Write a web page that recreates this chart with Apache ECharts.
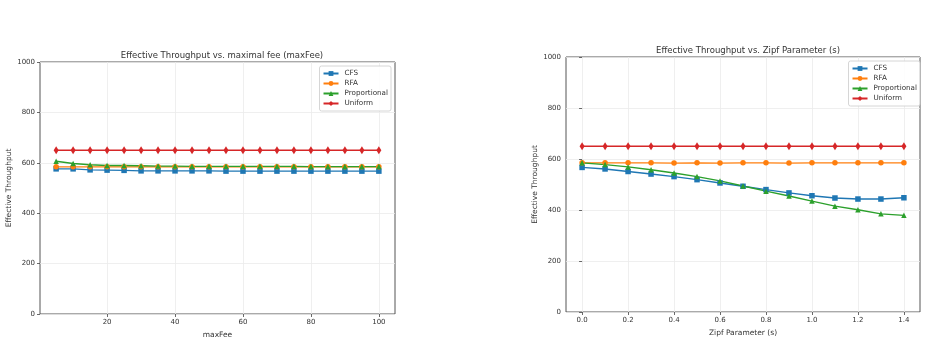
<!DOCTYPE html>
<html>
<head>
<meta charset="utf-8">
<script src="https://cdn.jsdelivr.net/npm/echarts@6/dist/echarts.min.js"></script>
<style>
  html, body { margin: 0; padding: 0; background: #fff; }
  #chart { width: 927px; height: 344px; }
</style>
</head>
<body>
<div id="chart"></div>
<script>
// left panel: throughput vs maxFee
const feeX = [5, 10, 15, 20, 25, 30, 35, 40, 45, 50, 55, 60, 65, 70, 75, 80, 85, 90, 95, 100]
const feeCFS = [576, 576, 572, 571, 570, 568, 568, 568, 568, 568, 567, 567, 567, 567, 567, 567, 567, 567, 567, 567]
const feeRFA = [584, 584, 584, 584, 584, 584, 584, 584, 584, 584, 584, 584, 584, 584, 584, 584, 584, 584, 584, 584]
const feeProp = [606, 597, 592, 589, 589, 588, 587, 587, 586, 586, 586, 586, 586, 586, 586, 585, 585, 585, 585, 585]
const feeUniform = [650, 650, 650, 650, 650, 650, 650, 650, 650, 650, 650, 650, 650, 650, 650, 650, 650, 650, 650, 650]
const feeTicks = [20, 40, 60, 80, 100]

// right panel: throughput vs zipf s
const zipfX = [0.0, 0.1, 0.2, 0.3, 0.4, 0.5, 0.6, 0.7, 0.8, 0.9, 1.0, 1.1, 1.2, 1.3, 1.4]
const zipfCFS = [567, 561, 551, 541, 531, 519, 506, 493, 480, 467, 456, 447, 443, 443, 448]
const zipfRFA = [585, 585, 585, 585, 584, 585, 584, 585, 585, 584, 585, 585, 585, 585, 585]
const zipfProp = [585, 578, 569, 558, 545, 531, 514, 494, 474, 455, 435, 415, 401, 385, 379]
const zipfUniform = [650, 650, 650, 650, 650, 650, 650, 650, 650, 650, 650, 650, 650, 650, 650]
const zipfTicks = [0.0, 0.2, 0.4, 0.6, 0.8, 1.0, 1.2, 1.4]

const yTicks = [0, 200, 400, 600, 800, 1000]

const names = ['CFS', 'RFA', 'Proportional', 'Uniform']
const colors = ['#1f77b4', '#ff7f0e', '#2ca02c', '#d62728']
const symbols = ['rect', 'circle', 'triangle', 'diamond']
const symbolSizes = [5.5, 5.5, 5.5, [5, 8]]

const FONT = 'DejaVu Sans'
const textColor = '#333'

function zip(xs, ys) {
  return xs.map((x, i) => [x, ys[i]])
}

function makeSeries(idx, xs, list) {
  return list.map((ys, i) => ({
    name: names[i],
    type: 'line',
    xAxisIndex: idx,
    yAxisIndex: idx,
    data: zip(xs, ys),
    symbol: symbols[i],
    symbolSize: symbolSizes[i],
    showSymbol: true,
    color: colors[i],
    lineStyle: { width: 1.4 },
    itemStyle: { color: colors[i] },
    animation: false
  }))
}

function xAxisOf(idx, min, max, ticks, name, gap, fmt) {
  return {
    type: 'value',
    gridIndex: idx,
    min,
    max,
    name,
    nameLocation: 'middle',
    nameGap: gap,
    nameTextStyle: { fontFamily: FONT, fontSize: 7.5, color: textColor },
    axisLine: { show: false },
    axisTick: { show: true, customValues: ticks, length: 3, lineStyle: { color: '#444', width: 0.8 } },
    axisLabel: {
      customValues: ticks,
      fontFamily: FONT,
      fontSize: 7,
      color: textColor,
      margin: 5,
      formatter: fmt
    },
    splitLine: { show: true, lineStyle: { color: '#ebebeb', width: 0.8 } }
  }
}

function yAxisOf(idx, gap) {
  return {
    type: 'value',
    gridIndex: idx,
    min: yTicks[0],
    max: yTicks[yTicks.length - 1],
    interval: yTicks[1] - yTicks[0],
    name: 'Effective Throughput',
    nameLocation: 'middle',
    nameGap: gap,
    nameTextStyle: { fontFamily: FONT, fontSize: 7.5, color: textColor },
    axisLine: { show: false },
    axisTick: { show: true, length: 3, lineStyle: { color: '#444', width: 0.8 } },
    axisLabel: {
      fontFamily: FONT,
      fontSize: 7,
      color: textColor,
      margin: 5,
      formatter: v => String(v)
    },
    splitLine: { show: true, lineStyle: { color: '#ebebeb', width: 0.8 } }
  }
}

function legendOf(right, top) {
  return {
    data: names,
    orient: 'vertical',
    right,
    top,
    align: 'left',
    itemWidth: 15,
    itemHeight: 6,
    itemGap: 3,
    padding: [4, 3, 4, 3],
    borderColor: '#ccc',
    borderWidth: 0.8,
    borderRadius: 2,
    backgroundColor: 'rgba(255,255,255,0.85)',
    textStyle: { fontFamily: FONT, fontSize: 7.2, color: textColor, padding: [0, 0, 0, 1] },
    selectedMode: false
  }
}

const chart = echarts.init(document.getElementById('chart'), null, { renderer: 'canvas' })

const option = {
  backgroundColor: '#fff',
  animation: false,
  title: [
    {
      text: 'Effective Throughput vs. maximal fee (maxFee)',
      left: 217,
      top: 46,
      textAlign: 'center',
      textStyle: { fontFamily: FONT, fontSize: 8.5, fontWeight: 'normal', color: textColor }
    },
    {
      text: 'Effective Throughput vs. Zipf Parameter (s)',
      left: 743,
      top: 41,
      textAlign: 'center',
      textStyle: { fontFamily: FONT, fontSize: 8.5, fontWeight: 'normal', color: textColor }
    }
  ],
  legend: [legendOf(536, 66), legendOf(7, 61)],
  grid: [
    { left: 40, right: 532, top: 62, bottom: 27, show: true, borderColor: '#555', borderWidth: 1, backgroundColor: 'transparent' },
    { left: 566, right: 7, top: 57, bottom: 32, show: true, borderColor: '#555', borderWidth: 1, backgroundColor: 'transparent' }
  ],
  xAxis: [
    xAxisOf(0, 0.25, 104.75, feeTicks, 'maxFee', 17, v => String(v)),
    xAxisOf(1, -0.07, 1.47, zipfTicks, 'Zipf Parameter (s)', 14, v => Number(v).toFixed(1))
  ],
  yAxis: [yAxisOf(0, 25), yAxisOf(1, 23)],
  series: [
    ...makeSeries(0, feeX, [feeCFS, feeRFA, feeProp, feeUniform]),
    ...makeSeries(1, zipfX, [zipfCFS, zipfRFA, zipfProp, zipfUniform])
  ]
}

chart.setOption(option)
</script>
</body>
</html>
